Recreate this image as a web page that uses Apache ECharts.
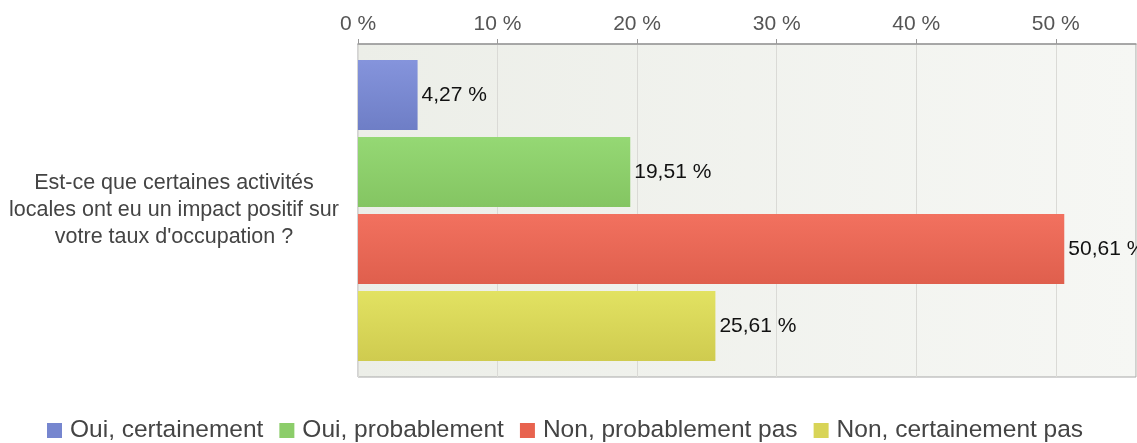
<!DOCTYPE html>
<html>
<head>
<meta charset="utf-8">
<script src="https://cdn.jsdelivr.net/npm/echarts@6/dist/echarts.min.js"></script>
<style>
html,body{margin:0;padding:0;background:#fff;}
#chart{width:1137px;height:443px;}
</style>
</head>
<body>
<div id="chart"></div>
<script>
const categories = ["Est-ce que certaines activités\nlocales ont eu un impact positif sur\nvotre taux d'occupation ?"];
const seriesNames = ["Oui, certainement", "Oui, probablement", "Non, probablement pas", "Non, certainement pas"];
const ouiCertainement = [4.27];
const ouiProbablement = [19.51];
const nonProbablementPas = [50.61];
const nonCertainementPas = [25.61];
const tickValues = [0, 10, 20, 30, 40, 50];

const seriesData = [ouiCertainement, ouiProbablement, nonProbablementPas, nonCertainementPas];
const colorsTop = ['#8594dc', '#95d874', '#f2715f', '#e2e262'];
const colorsBot = ['#6e7ec6', '#84c562', '#df5f4d', '#cfcb4f'];
const legendColors = ['#7686cf', '#8ccd6a', '#e8634f', '#d8d457'];

const FONT = '"Liberation Sans", Arial, sans-serif';
const chart = echarts.init(document.getElementById('chart'), null, {renderer: 'canvas'});

const fmt = v => v.toFixed(2).replace('.', ',') + ' %';

chart.setOption({
  animation: false,
  backgroundColor: '#ffffff',
  textStyle: {fontFamily: FONT},
  grid: {
    left: 358, right: 1, top: 44, bottom: 66,
    show: true,
    borderColor: '#a8a8a8',
    borderWidth: 1,
    backgroundColor: new echarts.graphic.LinearGradient(0, 0, 1, 0, [
      {offset: 0, color: '#eceee8'},
      {offset: 1, color: '#f6f7f4'}
    ])
  },
  legend: {
    top: 413,
    left: 42,
    itemWidth: 15,
    itemHeight: 15,
    itemGap: 16,
    icon: 'rect',
    textStyle: {fontFamily: FONT, fontSize: 24.5, color: '#444', padding: [0, 0, 0, 3]},
    data: seriesNames.map((n, i) => ({name: n, itemStyle: {color: legendColors[i]}}))
  },
  xAxis: {
    type: 'value',
    position: 'top',
    min: 0,
    max: 55.75,
    interval: 10,
    axisLine: {show: true, lineStyle: {color: '#999', width: 1.5}},
    axisTick: {show: true, length: 5, lineStyle: {color: '#999'}},
    splitLine: {show: true, lineStyle: {color: '#dadad6', width: 1}},
    axisLabel: {
      showMaxLabel: false,
      margin: 9,
      fontFamily: FONT,
      fontSize: 21,
      color: '#555',
      formatter: v => (tickValues.indexOf(v) >= 0 ? v + ' %' : '')
    }
  },
  yAxis: {
    type: 'category',
    data: categories,
    axisLine: {show: false},
    axisTick: {show: false},
    axisLabel: {
      margin: 184,
      align: 'center',
      fontFamily: FONT,
      fontSize: 21.5,
      lineHeight: 27,
      padding: [6, 0, 0, 0],
      color: '#444'
    }
  },
  series: seriesData.map((d, i) => ({
    name: seriesNames[i],
    type: 'bar',
    data: d,
    barWidth: 70,
    barGap: '10%',
    itemStyle: {
      color: new echarts.graphic.LinearGradient(0, 0, 0, 1, [
        {offset: 0, color: colorsTop[i]},
        {offset: 1, color: colorsBot[i]}
      ])
    },
    label: {
      show: true,
      position: 'right',
      distance: 4,
      fontFamily: FONT,
      fontSize: 21,
      color: '#111',
      formatter: p => fmt(p.value)
    }
  }))
});
</script>
</body>
</html>
